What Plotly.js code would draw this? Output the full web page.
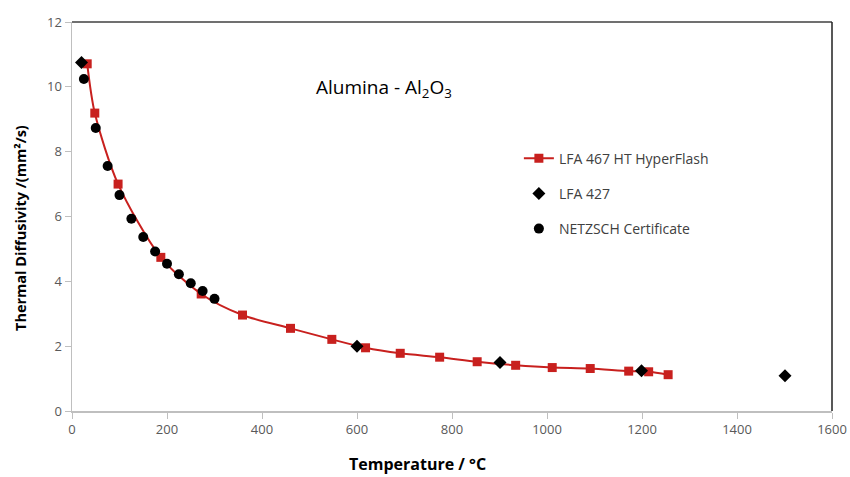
<!DOCTYPE html>
<html><head><meta charset="utf-8">
<script src="https://cdn.plot.ly/plotly-3.0.1.min.js"></script>
<style>body{margin:0;background:#fff}#c{width:850px;height:477px}</style>
</head><body><div id="c"></div>
<script>
// LFA 467 HT HyperFlash
const hfTemp = [32, 48, 97, 187, 272, 359, 460, 547, 618, 691, 774, 853, 934, 1011, 1091, 1172, 1214, 1255];
const hfDiff = [10.71, 9.19, 7.0, 4.74, 3.61, 2.96, 2.55, 2.21, 1.95, 1.78, 1.66, 1.52, 1.41, 1.34, 1.31, 1.23, 1.21, 1.12];
// LFA 427
const lfaTemp = [20, 600, 901, 1199, 1501];
const lfaDiff = [10.75, 2.0, 1.50, 1.24, 1.09];
// NETZSCH Certificate
const certTemp = [25, 50, 75, 100, 125, 150, 175, 200, 225, 250, 275, 300];
const certDiff = [10.24, 8.73, 7.56, 6.66, 5.93, 5.37, 4.92, 4.54, 4.22, 3.94, 3.70, 3.46];

const xTicks = [0, 200, 400, 600, 800, 1000, 1200, 1400, 1600];
const yTicks = [0, 2, 4, 6, 8, 10, 12];

const red = '#c8201e';
const traces = [
  {x: hfTemp, y: hfDiff, name: 'LFA 467 HT HyperFlash', legendgroup: 'a', mode: 'lines+markers', type: 'scatter',
   line: {color: red, width: 2, shape: 'spline', smoothing: 0.8},
   marker: {symbol: 'square', size: 9, color: red}},
  {x: lfaTemp, y: lfaDiff, name: 'LFA 427', legendgroup: 'b', mode: 'markers', type: 'scatter',
   marker: {symbol: 'diamond', size: 10, color: '#000'}},
  {x: certTemp, y: certDiff, name: 'NETZSCH Certificate', legendgroup: 'c', mode: 'markers', type: 'scatter',
   marker: {symbol: 'circle', size: 10, color: '#000'}}
];

const fam = 'Open Sans, sans-serif';
const tickFont = {family: fam, size: 13, color: '#595959'};
const layout = {
  width: 850, height: 477,
  margin: {l: 72, r: 18, t: 22, b: 66},
  paper_bgcolor: '#fff', plot_bgcolor: '#fff',
  showlegend: true,
  legend: {x: 0.588, y: 0.69, xanchor: 'left', yanchor: 'top', bgcolor: 'rgba(0,0,0,0)',
    font: {family: fam, size: 14, color: '#404040'}, traceorder: 'grouped', tracegroupgap: 14,
    itemwidth: 30},
  xaxis: {range: [0, 1600], tickvals: xTicks, showgrid: false, zeroline: false,
    showline: true, linecolor: '#bfbfbf', linewidth: 1.5, ticks: 'outside', ticklen: 6,
    tickcolor: '#bfbfbf', tickfont: tickFont},
  yaxis: {range: [0, 12], tickvals: yTicks, showgrid: false, zeroline: false,
    showline: true, linecolor: '#bfbfbf', linewidth: 1.5, ticks: 'outside', ticklen: 6,
    tickcolor: '#bfbfbf', tickfont: tickFont},
  shapes: [
    {type: 'line', xref: 'paper', yref: 'paper', x0: 0, x1: 1, y0: 1, y1: 1, line: {color: '#404040', width: 1.5}},
    {type: 'line', xref: 'paper', yref: 'paper', x0: 1, x1: 1, y0: 0, y1: 1, line: {color: '#202020', width: 1.5}}
  ],
  annotations: [
    {text: 'Alumina - Al<sub>2</sub>O<sub>3</sub>', xref: 'paper', yref: 'paper', x: 0.41, y: 0.83,
     xanchor: 'center', yanchor: 'middle', showarrow: false,
     font: {family: fam, size: 19, color: '#000'}},
    {text: '<b>Temperature / °C</b>', xref: 'paper', yref: 'paper', x: (417 - 72) / 760, y: 0,
     yshift: -53, xanchor: 'center', yanchor: 'middle', showarrow: false,
     font: {family: fam, size: 16, color: '#000'}},
    {text: '<b>Thermal Diffusivity /(mm²/s)</b>', xref: 'paper', yref: 'paper', x: 0, y: (411 - 228) / 389,
     xshift: -52, textangle: -90, xanchor: 'center', yanchor: 'middle', showarrow: false,
     font: {family: fam, size: 14.5, color: '#000'}}
  ]
};
Plotly.newPlot('c', traces, layout, {displayModeBar: false, staticPlot: true});
</script></body></html>
